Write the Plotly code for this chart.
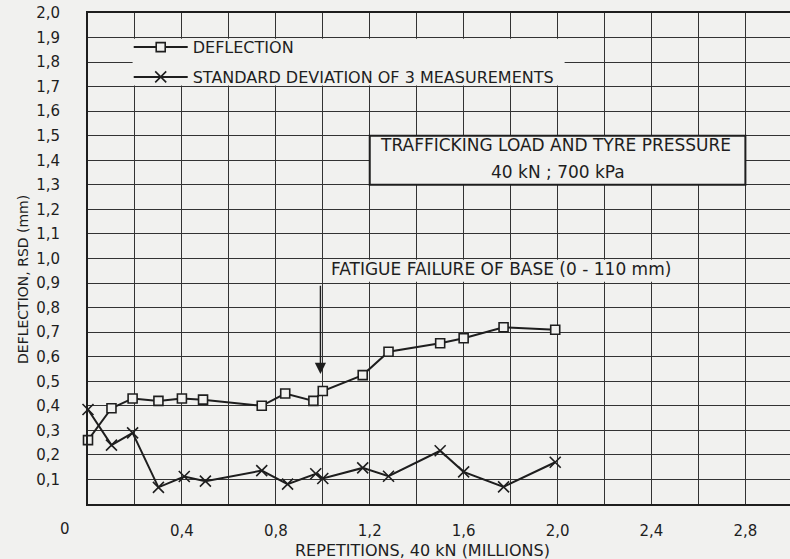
import plotly.graph_objects as go

# ---- data ----
rep_deflection = [0.0, 0.10, 0.19, 0.30, 0.40, 0.49, 0.74, 0.84, 0.96, 1.00, 1.17, 1.28, 1.50, 1.60, 1.77, 1.99]
deflection = [0.26, 0.39, 0.43, 0.42, 0.43, 0.425, 0.40, 0.45, 0.42, 0.46, 0.525, 0.62, 0.655, 0.675, 0.72, 0.71]

rep_sd = [0.0, 0.10, 0.19, 0.30, 0.41, 0.50, 0.74, 0.85, 0.97, 1.00, 1.17, 1.28, 1.50, 1.60, 1.77, 1.99]
std_dev = [0.385, 0.24, 0.29, 0.068, 0.112, 0.093, 0.136, 0.081, 0.123, 0.104, 0.147, 0.113, 0.217, 0.131, 0.07, 0.17]

x_tickvals = [0.2, 0.4, 0.6, 0.8, 1.0, 1.2, 1.4, 1.6, 1.8, 2.0, 2.2, 2.4, 2.6, 2.8]
x_ticktext = ["", "0,4", "", "0,8", "", "1,2", "", "1,6", "", "2,0", "", "2,4", "", "2,8"]
y_tickvals = [0.1, 0.2, 0.3, 0.4, 0.5, 0.6, 0.7, 0.8, 0.9, 1.0,
              1.1, 1.2, 1.3, 1.4, 1.5, 1.6, 1.7, 1.8, 1.9, 2.0]
y_ticktext = ["0,1", "0,2", "0,3", "0,4", "0,5", "0,6", "0,7", "0,8", "0,9", "1,0",
              "1,1", "1,2", "1,3", "1,4", "1,5", "1,6", "1,7", "1,8", "1,9", "2,0"]

BG = "#f1f1ef"
INK = "#1e1e1e"
GRID = "#333333"
FONT = "DejaVu Sans"

fig = go.Figure()
fig.add_trace(go.Scatter(
    x=rep_deflection, y=deflection, name="DEFLECTION",
    mode="lines+markers", cliponaxis=False,
    line=dict(color=INK, width=2),
    marker=dict(symbol="square", size=9, color=BG, line=dict(color=INK, width=1.6)),
    legendgroup="a",
))
fig.add_trace(go.Scatter(
    x=rep_sd, y=std_dev, name="STANDARD DEVIATION OF 3 MEASUREMENTS",
    mode="lines+markers", cliponaxis=False,
    line=dict(color=INK, width=2),
    marker=dict(symbol="x-thin", size=11, color=INK, line=dict(color=INK, width=1.6)),
    legendgroup="b",
))

shapes = [
    # blank area behind the legend
    dict(type="rect", xref="x", yref="y", x0=0.19, x1=2.03, y0=1.705, y1=1.895,
         fillcolor=BG, line=dict(width=0), layer="between"),
    # blank area behind the fatigue note
    dict(type="rect", xref="x", yref="y", x0=1.005, x1=2.56, y0=0.905, y1=0.995,
         fillcolor=BG, line=dict(width=0), layer="between"),
    # boxed loading note
    dict(type="rect", xref="x", yref="y", x0=1.2, x1=2.8, y0=1.3, y1=1.5,
         fillcolor=BG, line=dict(color=INK, width=2), layer="between"),
]

annotations = [
    dict(text="TRAFFICKING LOAD AND TYRE PRESSURE", x=1.99, y=1.462, xref="x", yref="y",
         showarrow=False, font=dict(family=FONT, size=17, color=INK)),
    dict(text="40 kN ; 700 kPa", x=2.0, y=1.353, xref="x", yref="y",
         showarrow=False, font=dict(family=FONT, size=17, color=INK)),
    dict(text="FATIGUE FAILURE OF BASE (0 - 110 mm)", x=1.025, y=0.958, xref="x", yref="y",
         xanchor="left", showarrow=False, font=dict(family=FONT, size=17, color=INK)),
    dict(text="", x=0.99, y=0.53, xref="x", yref="y", ax=0.99, ay=0.895,
         axref="x", ayref="y", showarrow=True, arrowhead=2, arrowsize=1.6,
         arrowwidth=1.4, arrowcolor=INK),
    dict(text="0", x=(65 - 88) / 702, y=(504 - 529) / 491, xref="paper", yref="paper",
         xanchor="center", yanchor="middle",
         showarrow=False, font=dict(family=FONT, size=15, color=INK)),
    dict(text="REPETITIONS, 40 kN (MILLIONS)", x=(422 - 88) / 702, y=(504 - 550) / 491,
         xref="paper", yref="paper", xanchor="center", yanchor="middle", showarrow=False,
         font=dict(family=FONT, size=16, color=INK)),
    dict(text="DEFLECTION, RSD (mm)", x=(23 - 88) / 702, y=(504 - 280) / 491,
         xref="paper", yref="paper", xanchor="center", yanchor="middle",
         showarrow=False, textangle=-90,
         font=dict(family=FONT, size=14, color=INK)),
]

fig.update_layout(
    width=790, height=559,
    margin=dict(l=88, r=0, t=13, b=55, autoexpand=False),
    paper_bgcolor=BG, plot_bgcolor=BG,
    font=dict(family=FONT, size=15, color=INK),
    showlegend=True,
    legend=dict(x=0.058, y=0.965, xanchor="left", yanchor="top",
                bgcolor="rgba(0,0,0,0)", font=dict(family=FONT, size=16, color=INK),
                traceorder="grouped", tracegroupgap=6, itemwidth=54),
    shapes=shapes,
    annotations=annotations,
)
fig.update_xaxes(
    range=[0, 2.99], tickmode="array", tickvals=x_tickvals, ticktext=x_ticktext,
    showgrid=True, gridcolor=GRID, gridwidth=1, zeroline=False,
    showline=True, linecolor=INK, linewidth=2, mirror=True, ticks="",
    ticklabelstandoff=12, automargin=False,
)
fig.update_yaxes(
    range=[0, 2.0], tickmode="array", tickvals=y_tickvals, ticktext=y_ticktext,
    showgrid=True, gridcolor=GRID, gridwidth=1, zeroline=False,
    showline=True, linecolor=INK, linewidth=2, mirror=False, ticks="",
    ticklabelstandoff=23, automargin=False,
)

fig.write_html(
    "out.html",
    config={"displayModeBar": False},
    post_script="document.body.style.margin='0px';document.body.style.overflow='hidden';",
)
